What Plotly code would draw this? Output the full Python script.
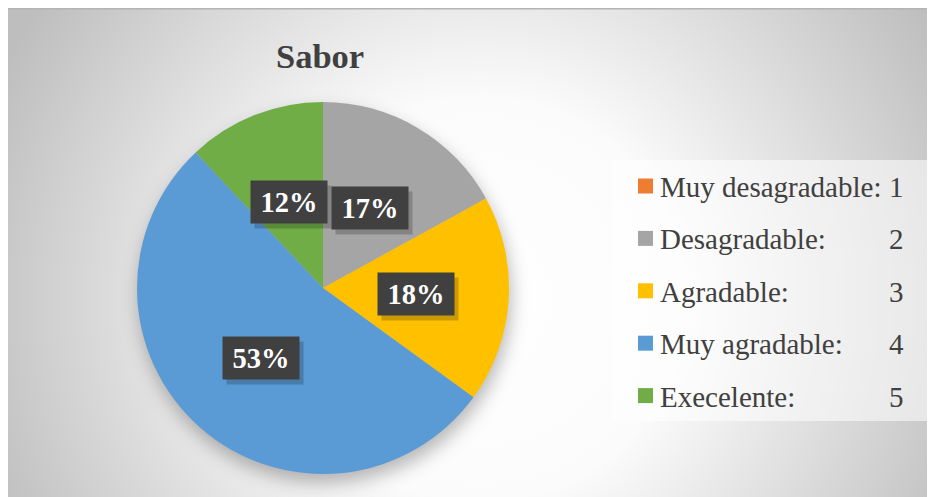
import base64
import math
import plotly.graph_objects as go

# ---------------- data ----------------
categories = ["Muy desagradable", "Desagradable", "Agradable", "Muy agradable", "Execelente"]
scores = [1, 2, 3, 4, 5]
values = [0, 17, 18, 53, 12]
colors = ["#ED7D31", "#A5A5A5", "#FFC000", "#5B9BD5", "#70AD47"]
title_text = "Sabor"

# ---------------- layout constants ----------------
OFF = 8                      # page body margin
W, H = 935 - OFF, 497 - OFF  # figure size
CX, CY, R = 323, 288, 186    # pie centre / radius in page pixels
SERIF = "Times New Roman, Liberation Serif, serif"
TXT = "#404040"


def px(x):
    return (x - OFF) / W


def py(y):
    return 1 - (y - OFF) / H


# background: radial gradient + soft pie shadow (SVG data URI)
svg = f"""<svg xmlns='http://www.w3.org/2000/svg' width='{W}' height='{H}' viewBox='0 0 {W} {H}'>
<defs>
<radialGradient id='g' gradientUnits='userSpaceOnUse' cx='{480-OFF}' cy='{300-OFF}' r='530'>
<stop offset='0' stop-color='#ffffff'/>
<stop offset='0.38' stop-color='#fbfbfb'/>
<stop offset='1' stop-color='#bebebe'/>
</radialGradient>
<filter id='b' x='-20%' y='-20%' width='140%' height='140%'><feGaussianBlur stdDeviation='9'/></filter>
</defs>
<rect x='0' y='0' width='{W}' height='{H}' fill='url(#g)'/>
<rect x='0' y='0' width='{W}' height='1.5' fill='#b4b4b4'/>
<circle cx='{CX+2-OFF}' cy='{CY+9-OFF}' r='{R}' fill='rgba(0,0,0,0.28)' filter='url(#b)'/>
</svg>"""
svg_uri = "data:image/svg+xml;base64," + base64.b64encode(svg.encode()).decode()

fig = go.Figure()
fig.add_trace(go.Pie(
    labels=categories,
    values=values,
    marker=dict(colors=colors, line=dict(width=0)),
    sort=False,
    direction="clockwise",
    rotation=0,
    textinfo="none",
    hole=0,
    showlegend=False,
    domain=dict(x=[px(CX - R), px(CX + R)], y=[py(CY + R), py(CY - R)]),
))

annotations = []
shapes = []

# data labels (placed on slice mid-angle at half radius)
total = sum(values)
cum = 0
for v in values:
    if v > 0:
        mid = (cum + v / 2) / total * 2 * math.pi
        lx = CX + 0.5 * R * math.sin(mid)
        ly = CY - 0.5 * R * math.cos(mid)
        pct = f"{round(v / total * 100)}%"
        # shadow
        annotations.append(dict(
            x=px(lx + 4), y=py(ly + 5), xref="paper", yref="paper",
            xanchor="center", yanchor="middle",
            text=" ", showarrow=False, width=76, height=42,
            bgcolor="rgba(0,0,0,0.2)", borderpad=0,
        ))
        annotations.append(dict(
            x=px(lx), y=py(ly), xref="paper", yref="paper",
            xanchor="center", yanchor="middle",
            text=f"<b>{pct}</b>", showarrow=False, width=76, height=42,
            bgcolor="#404040", borderpad=0,
            font=dict(family=SERIF, size=28.5, color="white"),
        ))
    cum += v

# title
annotations.append(dict(
    x=px(320), y=py(56), xref="paper", yref="paper",
    text=f"<b>{title_text}</b>", showarrow=False,
    xanchor="center", yanchor="middle",
    font=dict(family=SERIF, size=34.5, color=TXT),
))

# custom legend
shapes.append(dict(
    type="rect", xref="paper", yref="paper",
    x0=px(612), x1=px(931), y0=py(421), y1=py(160),
    fillcolor="rgba(255,255,255,0.55)", line=dict(width=0), layer="below",
))
for i, (cat, sc, col) in enumerate(zip(categories, scores, colors)):
    ry = 186 + i * 52.4
    shapes.append(dict(
        type="rect", xref="paper", yref="paper",
        x0=px(638), x1=px(653), y0=py(ry + 7.5), y1=py(ry - 7.5),
        fillcolor=col, line=dict(width=0),
    ))
    annotations.append(dict(
        x=px(658), y=py(ry + 1), xref="paper", yref="paper",
        text=f"{cat}:", showarrow=False, xanchor="left", yanchor="middle",
        font=dict(family=SERIF, size=29, color=TXT),
    ))
    annotations.append(dict(
        x=px(906), y=py(ry + 1), xref="paper", yref="paper",
        text=f"{sc}", showarrow=False, xanchor="right", yanchor="middle",
        font=dict(family=SERIF, size=29, color=TXT),
    ))

fig.update_layout(
    width=W, height=H,
    margin=dict(l=0, r=0, t=0, b=0),
    paper_bgcolor="white",
    plot_bgcolor="rgba(0,0,0,0)",
    annotations=annotations,
    shapes=shapes,
    images=[dict(source=svg_uri, xref="paper", yref="paper", x=0, y=1,
                 sizex=1, sizey=1, sizing="stretch", layer="below",
                 xanchor="left", yanchor="top")],
)

fig.write_html("out.html")
